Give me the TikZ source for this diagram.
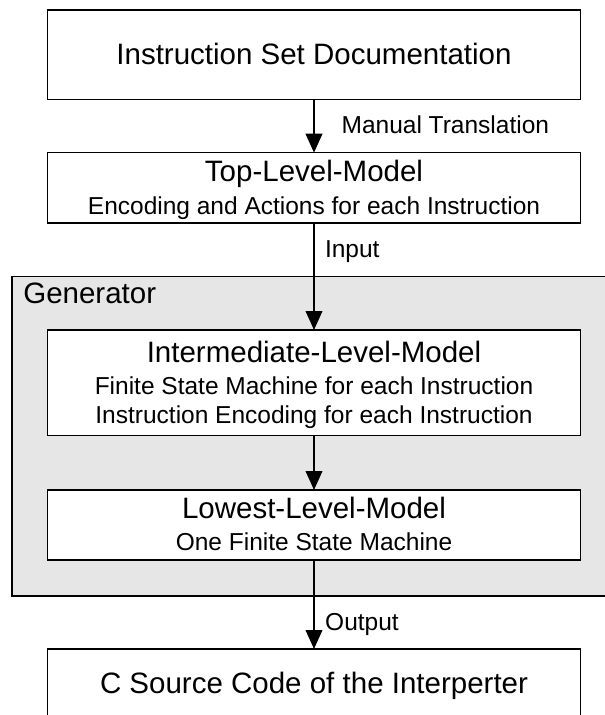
\documentclass[tikz,border=0pt]{standalone}
\usepackage{fontspec}
\setmainfont{Liberation Sans}
\usetikzlibrary{arrows.meta}
\definecolor{genfill}{HTML}{E6E6E6}
\tikzset{
  box/.style={draw=black, line width=1.3pt, fill=white, inner sep=0pt, outer sep=0pt, minimum width=533.4pt},
  genbox/.style={draw=black, line width=1.3pt, fill=genfill, inner sep=0pt, outer sep=0pt},
  arr/.style={line width=2pt, -{Triangle[length=19pt, width=16.6pt]}},
  head/.style={inner sep=0pt, anchor=base, font=\fontsize{29.5}{30}\selectfont},
  sub/.style={inner sep=0pt, anchor=base, font=\fontsize{24.5}{26}\selectfont},
  lbl/.style={inner sep=0pt, anchor=base west, font=\fontsize{24.5}{26}\selectfont},
}
\begin{document}
\begin{tikzpicture}[x=1pt, y=-1pt]
\useasboundingbox (0,0) rectangle (605,715);
\clip (0,0) rectangle (605,715);
% generator group
\node[genbox, minimum width=608pt, minimum height=319.3pt] (gen) at (316,436.35) {};
\node[lbl, font=\fontsize{29.5}{30}\selectfont] (genlbl) at (23.1,303) {Generator};
% boxes
\node[box, minimum height=89.3pt] (doc) at (314,54.65) {};
\node[box, minimum height=70.2pt] (top) at (314,187.8) {};
\node[box, minimum height=105.8pt] (inter) at (314,382.9) {};
\node[box, minimum height=70pt] (low) at (314,525) {};
\node[box, minimum height=89.3pt] (out) at (314,693.65) {};
% texts
\node[head] (doct) at (314,64) {Instruction Set Documentation};
\node[head] (topt) at (314,181.7) {Top-Level-Model};
\node[sub] (tops) at (314,214) {Encoding and Actions for each Instruction};
\node[head] (intert) at (314,362.7) {Intermediate-Level-Model};
\node[sub] (inters1) at (314,394) {Finite State Machine for each Instruction};
\node[sub] (inters2) at (314,423.3) {Instruction Encoding for each Instruction};
\node[head] (lowt) at (314,518.3) {Lowest-Level-Model};
\node[sub] (lows) at (314,550.7) {One Finite State Machine};
\node[head] (outt) at (314,693.3) {C Source Code of the Interperter};
% connectors
\draw[arr] (doc) -- (top);
\draw[arr] (top) -- (inter);
\draw[arr] (inter) -- (low);
\draw[arr] (low) -- (out);
% connector labels
\node[lbl] (l1) at (341.4,133.3) {Manual Translation};
\node[lbl] (l2) at (324.8,257.3) {Input};
\node[lbl] (l3) at (325,630) {Output};
\end{tikzpicture}
\end{document}
